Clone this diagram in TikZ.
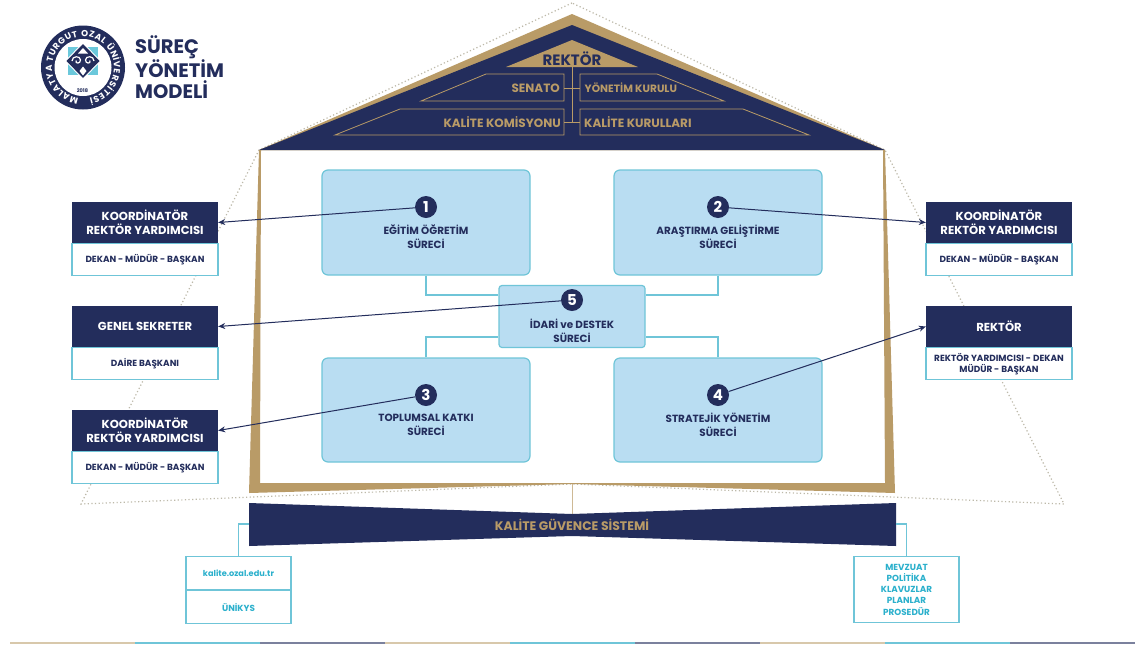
\documentclass[tikz,border=0pt]{standalone}
\usepackage{fontspec}
\setmainfont{Poppins}
\usetikzlibrary{decorations.text,arrows.meta}
\definecolor{navy}{HTML}{232D5C}
\definecolor{gold}{HTML}{B99B67}
\definecolor{paleblue}{HTML}{B9DDF2}
\definecolor{tealline}{HTML}{6FC5D8}
\definecolor{cyantext}{HTML}{2BB0CC}
\definecolor{dots}{HTML}{BDB9A9}
\tikzset{
  hdr/.style={fill=navy,text=white,minimum width=146pt,minimum height=41pt,inner sep=0pt,align=center,font=\bfseries\fontsize{11.6}{14}\selectfont},
  bod/.style={draw=tealline,line width=1.1pt,fill=white,text=navy,minimum width=146pt,inner sep=0pt,align=center,font=\bfseries\fontsize{8.9}{11}\selectfont},
  proc/.style={draw=tealline,line width=1.2pt,fill=paleblue,rounded corners=6pt,inner sep=0pt},
  proctxt/.style={text=navy,align=center,inner sep=0pt,font=\bfseries\fontsize{10.4}{14}\selectfont},
  num/.style={circle,fill=navy,text=white,minimum size=22pt,inner sep=0pt,font=\bfseries\fontsize{15}{15}\selectfont},
  link/.style={draw=tealline,line width=1.1pt},
  pointer/.style={draw=navy,line width=1pt,-{Stealth[length=7pt,width=6pt]}},
  outline/.style={draw=dots,line width=1.2pt,dash pattern=on 1.2pt off 2.4pt},
  rooftxt/.style={text=gold,inner sep=0pt,font=\bfseries\fontsize{12}{14}\selectfont},
  roofbox/.style={draw=gold,line width=.8pt},
  cybox/.style={draw=tealline,line width=1.1pt,fill=white,text=cyantext,inner sep=0pt,align=center,minimum width=105pt,font=\bfseries\fontsize{8.8}{11.2}\selectfont},
}
\begin{document}
\begin{tikzpicture}[x=1pt,y=-1pt]
\useasboundingbox (0,0) rectangle (1137,646);
\fill[white] (0,0) rectangle (1137,646);

% dotted outline
\draw[outline] (572,3) -- (259,150) -- (81,504) -- (572,484) -- (1064,504) -- (885,150) -- cycle;

% roof
\fill[gold] (572,14) -- (259,150) -- (885,150) -- cycle;
\fill[navy] (572,25) -- (259,150) -- (885,150) -- cycle;
\fill[gold] (572,40) -- (506,67) -- (638,67) -- cycle;
\node[inner sep=0pt,text=navy,font=\bfseries\fontsize{15}{16}\selectfont] (rektorroof) at (572,58.5) {REKTÖR};
\draw[roofbox] (421,101) -- (486,74) -- (564,74) -- (564,101) -- cycle;
\draw[roofbox] (580,101) -- (580,74) -- (657,74) -- (724,101) -- cycle;
\draw[roofbox] (335,135) -- (400,109) -- (564,109) -- (564,135) -- cycle;
\draw[roofbox] (580,135) -- (580,109) -- (743,109) -- (809,135) -- cycle;
\draw[roofbox] (572,67) -- (572,122);
\draw[roofbox] (564,88) -- (580,88);
\draw[roofbox] (564,122) -- (580,122);
\node[rooftxt,anchor=east] (senato) at (560,88) {SENATO};
\node[rooftxt,anchor=west,font=\bfseries\fontsize{10.6}{14}\selectfont] (ykurulu) at (584.5,88) {YÖNETİM KURULU};
\node[rooftxt,anchor=east] (kkom) at (561,122) {KALİTE KOMİSYONU};
\node[rooftxt,anchor=west] (kkur) at (584,122) {KALİTE KURULLARI};

% gold frame
\fill[gold,even odd rule] (259,150) -- (249,493) -- (572,484) -- (895,493) -- (885,150) -- cycle
  (261,150) -- (260,483) -- (885,483) -- (883,150) -- cycle;

% base
\draw[gold!70,line width=1pt] (572,484) -- (572,514);
\fill[navy] (249,503) -- (572,514) -- (896,503) -- (896,546) -- (572,536) -- (249,546) -- cycle;
\node[inner sep=0pt,text=gold,font=\bfseries\fontsize{12.4}{14}\selectfont] (kgs) at (572,525) {KALİTE GÜVENCE SİSTEMİ};

% process boxes
\coordinate (jl) at (426,295);
\coordinate (jr) at (718,295);
\coordinate (kl) at (426,337);
\coordinate (kr) at (718,337);
\node[proc,minimum width=208pt,minimum height=105pt] (p1) at (426,222.5) {};
\node[proc,minimum width=208pt,minimum height=105pt] (p2) at (718,222.5) {};
\node[proc,minimum width=208pt,minimum height=104pt] (p3) at (426,410) {};
\node[proc,minimum width=208pt,minimum height=104pt] (p4) at (718,410) {};
\node[proc,rounded corners=3pt,minimum width=146pt,minimum height=62pt] (p5) at (572,316.5) {};
\draw[link] (p1.south) -- (jl) -- (jl -| p5.west);
\draw[link] (p2.south) -- (jr) -- (jr -| p5.east);
\draw[link] (p3.north) -- (kl) -- (kl -| p5.west);
\draw[link] (p4.north) -- (kr) -- (kr -| p5.east);
\node[proctxt] (t1) at (426,237) {EĞİTİM ÖĞRETİM\\SÜRECİ};
\node[proctxt] (t2) at (718,237) {ARAŞTIRMA GELİŞTİRME\\SÜRECİ};
\node[proctxt] (t3) at (426,425) {TOPLUMSAL KATKI\\SÜRECİ};
\node[proctxt] (t4) at (718,425) {STRATEJİK YÖNETİM\\SÜRECİ};
\node[proctxt] (t5) at (572,331) {İDARİ ve DESTEK\\SÜRECİ};

% left role boxes
\node[hdr] (l1) at (145,222.5) {KOORDİNATÖR\\REKTÖR YARDIMCISI};
\node[bod,minimum height=32pt,anchor=north] (l1b) at (l1.south) {DEKAN - MÜDÜR - BAŞKAN};
\node[hdr] (l2) at (145,326.5) {GENEL SEKRETER};
\node[bod,minimum height=32pt,anchor=north] (l2b) at (l2.south) {DAİRE BAŞKANI};
\node[hdr] (l3) at (145,430.5) {KOORDİNATÖR\\REKTÖR YARDIMCISI};
\node[bod,minimum height=32pt,anchor=north] (l3b) at (l3.south) {DEKAN - MÜDÜR - BAŞKAN};
% right role boxes
\node[hdr] (r1) at (999,222.5) {KOORDİNATÖR\\REKTÖR YARDIMCISI};
\node[bod,minimum height=32pt,anchor=north] (r1b) at (r1.south) {DEKAN - MÜDÜR - BAŞKAN};
\node[hdr] (r2) at (999,326.5) {REKTÖR};
\node[bod,minimum height=32pt,anchor=north] (r2b) at (r2.south) {REKTÖR YARDIMCISI - DEKAN\\MÜDÜR - BAŞKAN};

% number badges and pointers
\node[num] (n1) at (426,207) {1};
\node[num] (n2) at (718,207) {2};
\node[num] (n3) at (426,395) {3};
\node[num] (n4) at (718,395) {4};
\node[num] (n5) at (572,300) {5};
\draw[pointer] (n1) -- (l1.east);
\draw[pointer] (n2) -- (r1.west);
\draw[pointer] (n3) -- (l3.east);
\draw[pointer] (n4) -- (r2.west);
\draw[pointer] (n5) -- (l2.east);

% quality boxes
\node[cybox,minimum height=33pt,anchor=north,font=\bfseries\fontsize{8.2}{11}\selectfont] (q1) at (238.5,556) {kalite.ozal.edu.tr};
\node[cybox,minimum height=33pt,anchor=north] (q2) at (q1.south) {ÜNİKYS};
\node[cybox,minimum height=66pt,anchor=north] (q3) at (906.5,556) {MEVZUAT\\POLİTİKA\\KLAVUZLAR\\PLANLAR\\PROSEDÜR};
\coordinate (qla) at (249,524);
\coordinate (qra) at (896,524);
\draw[link] (qla) -| (q1.north);
\draw[link] (qra) -| (q3.north);

% bottom rule
\foreach \a/\b/\c in {10/135/gold!55,135/260/tealline,260/385/navy!60,385/510/gold!55,510/635/tealline,635/760/navy!60,760/885/gold!55,885/1010/tealline,1010/1135/navy!60}
  \fill[\c] (\a,642) rectangle (\b,644);

% logo
\fill[navy] (83,67.5) circle[radius=42pt];
\fill[white] (83,67.5) circle[radius=28.5pt];
\path[postaction={decorate},decoration={text along path,text align={fit to path},
  text={|\bfseries\fontsize{8.8}{9}\selectfont\color{white}|MALATYA TURGUT OZAL ÜNİVERSİTESİ}}]
  (83,67.5) ++(262:31pt) arc[start angle=262,end angle=-78,radius=31pt];
\fill[cyantext!70] (68,47) rectangle (98,75);
\fill[white] (83,42.5) -- (101,61) -- (83,79.5) -- (65,61) -- cycle;
\fill[navy] (83,44) -- (99.5,61) -- (83,78) -- (66.5,61) -- cycle;
\fill[white] (83,48) -- (88,53.5) -- (78,53.5) -- cycle;
\draw[white,line width=1.2pt] (72,61) .. controls (72,55.5) and (80.5,55.5) .. (80.5,60) .. controls (80.5,64) and (75,64) .. (76,60.5);
\draw[white,line width=1.2pt] (94,61) .. controls (94,55.5) and (85.5,55.5) .. (85.5,60) .. controls (85.5,64) and (91,64) .. (90,60.5);
\fill[white] (83,66.5) -- (86.5,71) -- (83,75.5) -- (79.5,71) -- cycle;
\node[inner sep=0pt,text=navy,font=\bfseries\fontsize{5}{5}\selectfont] (yr) at (82.5,90.5) {2018};
\node[inner sep=0pt,anchor=west,text=navy,align=left,font=\bfseries\fontsize{19.5}{20.5}\selectfont] (ttl) at (135,67) {SÜREÇ\\YÖNETİM\\MODELİ};
\end{tikzpicture}
\end{document}
